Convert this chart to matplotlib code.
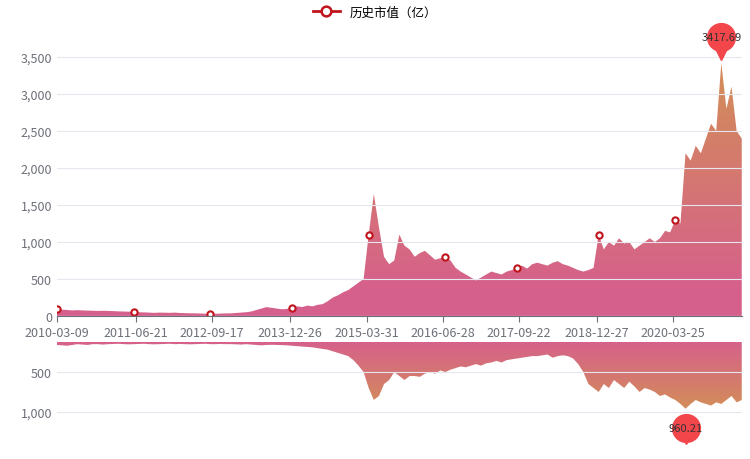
import matplotlib.pyplot as plt
import numpy as np
from matplotlib.colors import LinearSegmentedColormap
from matplotlib.lines import Line2D

plt.rcParams['font.family'] = ['Noto Sans CJK SC', 'DejaVu Sans']

# monthly values, 2010-03 .. 2021-07
market_cap = [
    90, 85, 80, 75, 78, 75, 72, 70, 68, 70,
    68, 65, 62, 60, 58, 55, 50, 48, 45, 42, 45, 44,
    42, 45, 40, 38, 36, 35, 33, 30, 28, 30, 32, 34,
    35, 40, 45, 50, 60, 80, 100, 120, 110, 100, 90, 95,
    110, 130, 120, 140, 130, 150, 160, 200, 250, 280, 320, 350,
    400, 450, 500, 1100, 1650, 1200, 800, 700, 750, 1100, 950, 900,
    800, 850, 880, 820, 760, 780, 800, 750, 650, 600, 560, 520,
    480, 520, 560, 600, 580, 560, 600, 620, 650, 680, 640, 700,
    720, 700, 680, 720, 740, 700, 680, 650, 620, 600, 620, 650,
    1100, 900, 1000, 950, 1050, 980, 1000, 900, 950, 1000, 1050, 1000,
    1050, 1150, 1130, 1300, 1250, 2200, 2100, 2300, 2200, 2400, 2600, 2500,
    3417.69, 2800, 3100, 2500, 2400,
]
lower_series = [
    160, 165, 170, 160, 150, 155, 160, 150, 150, 155,
    150, 148, 145, 150, 152, 150, 148, 145, 150, 152, 150, 148,
    145, 150, 148, 150, 152, 150, 148, 145, 150, 150, 148, 150,
    150, 152, 155, 150, 155, 160, 165, 160, 158, 160, 162, 165,
    170, 175, 180, 185, 190, 200, 210, 220, 240, 260, 280, 300,
    350, 420, 500, 700, 850, 800, 650, 600, 500, 550, 600, 550,
    550, 560, 520, 500, 520, 480, 500, 470, 450, 430, 440, 420,
    400, 420, 390, 380, 360, 380, 350, 340, 330, 320, 310, 300,
    300, 290, 280, 320, 300, 290, 300, 330, 400, 500, 650, 700,
    750, 650, 700, 600, 650, 700, 620, 680, 750, 700, 720, 750,
    800, 780, 820, 850, 900, 960.21, 900, 850, 880, 900, 920, 880,
    900, 850, 800, 880, 850,
]
tick_labels = ['2010-03-09', '2011-06-21', '2012-09-17', '2013-12-26', '2015-03-31',
               '2016-06-28', '2017-09-22', '2018-12-27', '2020-03-25']
tick_pos = [0, 15.4, 30.3, 45.6, 60.7, 75.6, 90.4, 105.6, 120.5]
marker_idx = [0, 15, 30, 46, 61, 76, 90, 106, 121]

x = np.arange(len(market_cap))
top = np.array(market_cap)
low = np.array(lower_series)
cmap = LinearSegmentedColormap.from_list('g', ['#d6608c', '#d38a5c'])

fig = plt.figure(figsize=(7.5, 4.6), dpi=100)
ax = fig.add_axes([0.076, 0.311, 0.913, 0.591])
ax2 = fig.add_axes([0.076, 0.033, 0.913, 0.221])

ymax = 3500 * (317 - 45) / (317 - 58)
ax.set_xlim(0, x[-1])
ax.set_ylim(0, ymax)
poly = ax.fill_between(x, 0, top, color='none', lw=0)
grad = np.linspace(0, 1, 256).reshape(-1, 1)
im = ax.imshow(grad, cmap=cmap, origin='lower', aspect='auto',
               extent=(0, x[-1], 0, 3450), vmin=0.1, vmax=0.9)
im.set_clip_path(poly.get_paths()[0], transform=ax.transData)
ax.plot(x[marker_idx], top[marker_idx], 'o', ms=4.5, mfc='white', mec='#c0141c', mew=1.5)
ax.set_yticks(np.arange(0, 3501, 500))
ax.set_yticklabels([f'{v:,}' for v in range(0, 3501, 500)])
ax.set_xticks(tick_pos)
ax.set_xticklabels(tick_labels)
ax.grid(axis='y', color='#e6e6ee', lw=0.8)
ax.set_axisbelow(True)
for s in ['top', 'right', 'left']:
    ax.spines[s].set_visible(False)
ax.spines['bottom'].set_color('#6e7079')
ax.tick_params(axis='y', length=0, labelsize=9, colors='#6e7079')
ax.tick_params(axis='x', length=4, labelsize=9, colors='#6e7079')
pk = int(np.argmax(top))
ax.plot(pk, 3417.69 + 120, marker='v', ms=9, color='#f2464b', clip_on=False, zorder=5)
ax.plot(pk, 3417.69 + 360, marker='o', ms=20, color='#f2464b', clip_on=False, zorder=5)
ax.text(pk, 3417.69 + 360, '3417.69', ha='center', va='center', fontsize=8,
        color='#333333', zorder=6, clip_on=False)

ax2.set_xlim(0, x[-1])
ax2.set_ylim(1400, 125)
poly2 = ax2.fill_between(x, 0, low, color='none', lw=0)
im2 = ax2.imshow(grad, cmap=cmap, origin='lower', aspect='auto',
                 extent=(0, x[-1], 0, 1000), vmin=0.1, vmax=0.9)
im2.set_clip_path(poly2.get_paths()[0], transform=ax2.transData)
ax2.set_yticks([500, 1000])
ax2.set_yticklabels(['500', '1,000'])
ax2.set_xticks([])
ax2.grid(axis='y', color='#e6e6ee', lw=0.8)
ax2.set_axisbelow(True)
for s in ax2.spines.values():
    s.set_visible(False)
ax2.tick_params(axis='y', length=0, labelsize=9, colors='#6e7079')
mn = int(np.argmax(low))
ax2.plot(mn, 1200, marker='o', ms=20, color='#f2464b', clip_on=False, zorder=5)
ax2.plot(mn, 1330, marker='v', ms=9, color='#f2464b', clip_on=False, zorder=5)
ax2.text(mn, 1200, '960.21', ha='center', va='center', fontsize=8, color='#333333', zorder=6)

handle = Line2D([], [], color='#c0141c', lw=2, marker='o', ms=7, mfc='white', mew=1.8)
fig.legend([handle], ['历史市值（亿）'], loc='upper center', bbox_to_anchor=(0.5, 1.01),
           frameon=False, fontsize=9, handlelength=2.2)

fig.savefig('out.png', dpi=100)
